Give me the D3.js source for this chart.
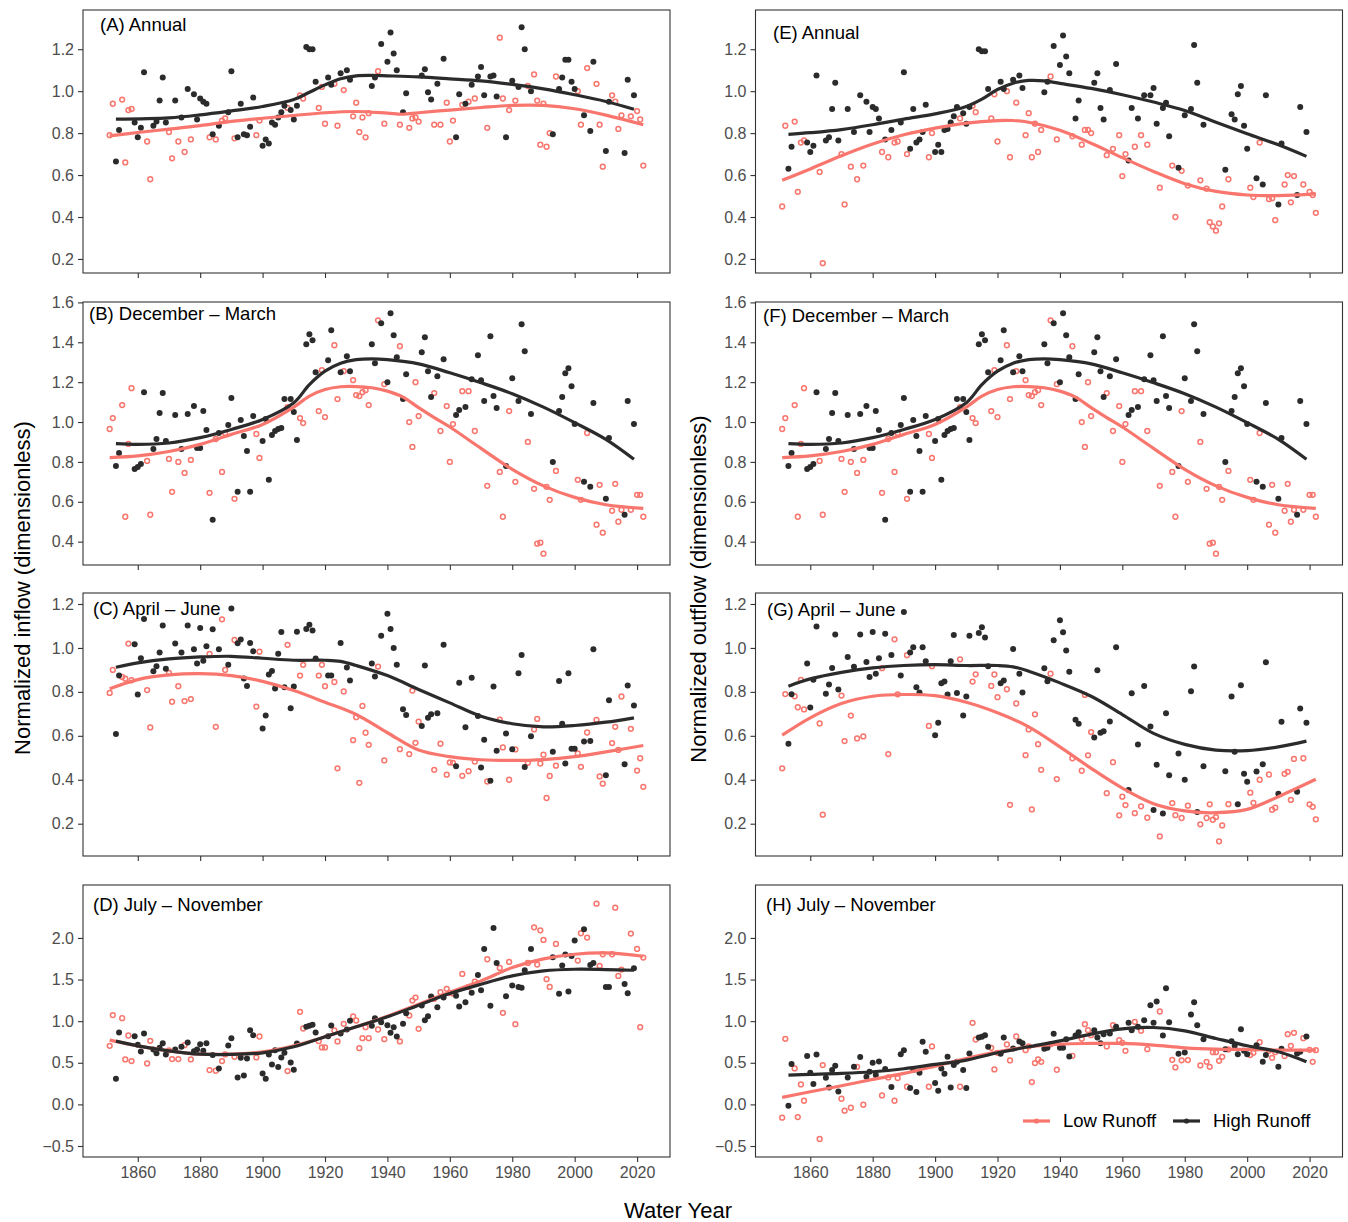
<!DOCTYPE html>
<html>
<head>
<meta charset="utf-8">
<script src="https://cdn.jsdelivr.net/npm/d3@7"></script>
<style>
  body { margin: 0; background: #fff; }
  text { font-family: "Liberation Sans", Arial, Helvetica, sans-serif; }
</style>
</head>
<body>
<div id="chart"></div>
<script>
// water years split by runoff class
var lowYears = [1851,1852,1855,1856,1857,1858, 1863,1864, 1870,1871,1873,1875,1877, 1883,1885,1887,1888,1891,
  1898,1899, 1908,1912,1913, 1918,1919,1920, 1923,1924,1926, 1929,1930,1931,1932,1933,1934, 1937,1939,
  1944,1947,1948,1949,1950, 1955,1957,1959,1960,1961, 1964,1966,1968, 1972,1976,1977,1979,
  1981,1985,1987,1988,1989,1990,1991,1992, 1994, 2001,2002,2004, 2007,2008,2009, 2012,2013,2014,2015,
  2018,2020,2021,2022];
var highYears = [1853,1854,1859,1860,1861,1862, 1865,1866,1867,1868,1869, 1872,1874,1876, 1878,1879,1880,1881,1882,
  1884,1886, 1889,1890, 1892,1893,1894,1895,1896,1897, 1900,1901,1902,1903,1904,1905,1906,1907,
  1909,1910,1911, 1914,1915,1916,1917, 1921,1922, 1925,1927,1928, 1935,1936,1938, 1940,1941,1942,1943,
  1945,1946, 1951,1952,1953,1954, 1956,1958, 1962,1963,1965,1967, 1969,1970,1971, 1973,1974,1975,
  1978,1980, 1982,1983,1984,1986, 1993, 1995,1996,1997,1998,1999,2000, 2003,2005,2006, 2010,2011,
  2016,2017,2019];

// (A) Annual inflow
var annualInLow = [0.79,0.94,0.96,0.66,0.91,0.915, 0.76,0.58, 0.805,0.68,0.76,0.71,0.77, 0.78,0.77,0.86,0.87,0.775,
  0.79,0.86, 0.92,0.98,0.965, 0.92,1.02,0.845, 1.035,0.835,1.005, 0.88,0.945,0.805,0.875,0.78,0.895, 1.095,0.845,
  0.84,0.825,0.87,0.875,0.855, 0.84,0.84,0.945,0.76,0.86, 0.935,0.95,0.965, 0.825,1.255,0.965,0.91,
  0.955,1.025,1.08,0.955,0.745,0.94,0.735,0.8, 1.07, 1.0,0.84,1.11, 1.035,0.84,0.64, 0.98,0.95,0.82,0.885,
  0.88,0.905,0.865,0.645];
var annualInHigh = [0.665,0.815,0.85,0.78,0.825,1.09, 0.835,0.855,0.955,1.065,0.85, 0.955,0.875,1.01, 0.985,0.865,0.965,0.95,0.94,
  0.795,0.835, 0.9,1.095, 0.78,0.94,0.795,0.79,0.83,0.97, 0.74,0.77,0.75,0.85,0.84,0.875,0.9,0.93,
  0.91,0.865,0.93, 1.21,1.2,1.2,1.045, 1.065,1.03, 1.085,1.1,1.055, 1.025,1.065,1.225, 1.14,1.28,1.18,1.1,
  0.9,0.99, 1.075,1.105,0.995,0.96, 1.035,1.155, 0.78,0.985,0.94,1.03, 1.07,1.115,0.98, 1.07,1.075,0.975,
  0.78,1.05, 1.02,1.305,1.2,1.0, 0.795, 1.01,1.065,1.15,1.15,1.045,1.01, 0.885,0.81,1.14, 0.715,0.95,
  0.705,1.055,0.98];
var annualInLowFit = [[1851,0.787],[1860,0.803],[1870,0.819],[1880,0.836],[1890,0.856],[1900,0.871],[1910,0.884],
  [1920,0.897],[1930,0.903],[1940,0.895],[1945,0.89],[1950,0.897],[1960,0.91],[1970,0.922],[1980,0.932],
  [1990,0.932],[2000,0.916],[2010,0.886],[2022,0.84]];
var annualInHighFit = [[1853,0.867],[1870,0.873],[1880,0.887],[1890,0.906],[1900,0.927],[1910,0.96],[1915,0.995],
  [1920,1.03],[1925,1.059],[1930,1.073],[1935,1.075],[1940,1.073],[1950,1.068],[1960,1.059],[1970,1.049],
  [1980,1.032],[1990,1.011],[2000,0.983],[2010,0.951],[2019,0.914]];

// (E) Annual outflow
var annualOutLow = [0.45,0.835,0.855,0.52,0.755,0.765, 0.615,0.18, 0.7,0.46,0.64,0.58,0.645, 0.71,0.685,0.755,0.76,0.7,
  0.685,0.8, 0.87,0.93,0.9, 0.87,0.985,0.76, 1.0,0.685,0.945, 0.79,0.895,0.685,0.845,0.71,0.815, 1.07,0.77,
  0.785,0.745,0.815,0.815,0.8, 0.695,0.725,0.79,0.595,0.7, 0.735,0.79,0.745, 0.54,0.645,0.4,0.62,
  0.55,0.575,0.535,0.375,0.355,0.335,0.37,0.45, 0.58, 0.54,0.495,0.755, 0.485,0.49,0.385, 0.555,0.6,0.47,0.595,
  0.555,0.52,0.505,0.42];
var annualOutHigh = [0.63,0.735,0.755,0.71,0.74,1.075, 0.765,0.78,0.915,1.04,0.765, 0.915,0.805,0.98, 0.95,0.805,0.925,0.915,0.87,
  0.77,0.815, 0.85,1.09, 0.725,0.915,0.755,0.77,0.805,0.935, 0.71,0.745,0.71,0.815,0.82,0.85,0.88,0.925,
  0.895,0.845,0.925, 1.2,1.19,1.19,1.01, 1.045,1.01, 1.055,1.075,1.015, 0.995,1.045,1.215, 1.125,1.265,1.165,1.085,
  0.87,0.955, 1.04,1.085,0.92,0.865, 1.005,1.13, 0.67,0.92,0.87,0.98, 0.98,1.015,0.845, 0.92,0.945,0.785,
  0.635,0.885, 0.915,1.22,1.04,0.84, 0.625, 0.89,0.865,0.985,1.025,0.835,0.725, 0.585,0.555,0.98, 0.46,0.75,
  0.505,0.925,0.805];
var annualOutLowFit = [[1851,0.575],[1860,0.629],[1870,0.692],[1880,0.748],[1890,0.792],[1900,0.824],[1910,0.848],
  [1920,0.86],[1925,0.86],[1930,0.852],[1940,0.814],[1950,0.752],[1960,0.683],[1970,0.617],[1980,0.559],
  [1990,0.522],[2000,0.505],[2010,0.502],[2022,0.51]];
var annualOutHighFit = [[1853,0.794],[1860,0.802],[1870,0.817],[1880,0.84],[1890,0.867],[1900,0.892],[1910,0.927],
  [1915,0.962],[1920,1.008],[1925,1.038],[1930,1.051],[1935,1.049],[1940,1.037],[1950,1.013],[1960,0.983],
  [1970,0.948],[1980,0.908],[1990,0.852],[2000,0.797],[2010,0.744],[2019,0.689]];

// (B) and (F) December - March (same in both columns)
var decMarLow = [0.965,1.02,1.085,0.525,0.89,1.17, 0.805,0.535, 0.815,0.65,0.8,0.745,0.81, 0.645,0.915,0.75,0.945,0.615,
  0.94,0.82, 1.075,1.02,0.995, 1.055,1.26,1.025, 1.385,1.115,1.255, 1.21,1.135,1.13,1.15,1.16,1.085, 1.51,1.19,
  1.38,1.0,0.875,1.2,1.03, 1.145,0.955,1.08,0.8,0.99, 1.155,1.155,0.955, 0.68,0.75,0.525,1.055,
  0.7,0.9,0.665,0.39,0.395,0.34,0.675,0.61, 0.755, 0.71,0.61,0.945, 0.485,0.685,0.445, 0.555,0.69,0.5,0.56,
  0.56,0.635,0.635,0.525];
var decMarHigh = [0.78,0.845,0.765,0.775,0.79,1.15, 0.865,0.915,1.045,1.145,0.905, 1.035,0.865,1.04, 1.08,0.87,0.87,1.055,0.96,
  0.51,0.945, 0.985,1.12, 0.65,1.01,0.93,0.855,0.65,1.03, 0.905,1.015,0.71,0.935,0.955,0.965,0.97,1.115,
  1.115,1.05,0.91, 1.39,1.44,1.41,1.25, 1.31,1.46, 1.25,1.33,1.255, 1.39,1.295,1.495, 1.2,1.545,1.435,1.325,
  1.115,1.24, 1.35,1.425,1.255,1.125, 1.23,1.315, 1.035,1.06,1.075,1.215, 1.335,1.21,1.105, 1.43,1.13,1.07,
  0.78,1.22, 1.105,1.49,1.355,1.04, 0.8, 1.055,1.125,1.245,1.27,1.18,0.99, 0.7,0.675,1.095, 0.615,0.92,
  0.535,1.105,0.99];
var decMarLowFit = [[1851,0.822],[1860,0.83],[1870,0.852],[1880,0.888],[1890,0.938],[1900,0.988],[1910,1.075],
  [1915,1.13],[1920,1.163],[1925,1.177],[1930,1.178],[1935,1.172],[1940,1.155],[1945,1.125],[1950,1.072],
  [1955,1.022],[1960,0.975],[1970,0.868],[1980,0.763],[1990,0.68],[2000,0.622],[2010,0.585],[2022,0.567]];
var decMarHighFit = [[1853,0.892],[1860,0.888],[1870,0.895],[1880,0.922],[1890,0.963],[1900,1.013],[1910,1.097],
  [1915,1.188],[1920,1.255],[1925,1.295],[1930,1.313],[1935,1.317],[1940,1.313],[1950,1.292],[1960,1.247],
  [1970,1.197],[1980,1.142],[1990,1.075],[2000,0.997],[2010,0.913],[2019,0.813]];

// (C) April - June inflow
var aprJunInLow = [0.795,0.9,0.868,0.86,1.02,0.853, 0.808,0.638, 0.886,0.755,0.826,0.758,0.767, 0.973,0.641,1.13,0.9,1.036,
  0.733,0.983, 1.014,0.874,0.923, 0.874,0.923,0.826, 0.845,0.452,0.802, 0.58,0.685,0.386,0.736,0.614,0.559, 0.915,0.488,
  0.539,0.517,0.806,0.568,0.665, 0.445,0.564,0.423,0.479,0.477, 0.418,0.439,0.483, 0.392,0.674,0.547,0.4,
  0.538,0.477,0.629,0.677,0.474,0.514,0.317,0.417, 0.464, 0.52,0.459,0.615, 0.673,0.415,0.382, 0.567,0.641,0.536,0.779,
  0.632,0.442,0.498,0.368];
var aprJunInHigh = [0.608,0.874,1.017,0.788,0.953,1.132, 0.894,0.917,0.979,1.102,0.905, 1.02,0.979,1.102, 0.994,0.929,1.091,0.942,1.008,
  1.085,0.994, 0.924,1.179, 1.021,1.038,0.861,0.827,1.023,0.985, 0.633,0.692,0.879,0.895,0.815,0.974,1.073,0.821,
  0.726,0.824,1.074, 1.086,1.106,1.079,0.952, 0.874,0.874, 1.023,0.911,0.852, 0.929,0.87,1.055, 1.155,1.086,1.0,0.924,
  0.721,0.695, 0.645,0.92,0.682,0.698, 0.703,1.015, 0.461,0.841,0.639,0.864, 0.69,0.456,0.582, 0.395,0.824,0.532,
  0.611,0.539, 0.885,0.968,0.458,0.598, 0.527, 0.85,0.655,0.474,0.885,0.541,0.541, 0.574,0.576,0.994, 0.421,0.762,
  0.471,0.829,0.738];
var aprJunInLowFit = [[1851,0.814],[1860,0.856],[1870,0.877],[1880,0.883],[1890,0.874],[1900,0.848],[1910,0.806],
  [1920,0.753],[1930,0.697],[1940,0.614],[1950,0.535],[1960,0.505],[1970,0.491],[1980,0.488],[1990,0.492],
  [2000,0.505],[2010,0.527],[2022,0.556]];
var aprJunInHighFit = [[1853,0.912],[1860,0.932],[1870,0.95],[1880,0.959],[1890,0.962],[1900,0.953],[1910,0.944],
  [1920,0.944],[1925,0.939],[1930,0.92],[1940,0.874],[1950,0.811],[1960,0.75],[1970,0.689],[1980,0.655],
  [1990,0.641],[2000,0.647],[2010,0.662],[2019,0.682]];

// (G) April - June outflow
var aprJunOutLow = [0.452,0.79,0.78,0.73,0.855,0.72, 0.656,0.241, 0.783,0.576,0.692,0.588,0.597, 0.908,0.517,1.039,0.789,0.967,
  0.645,0.917, 0.948,0.847,0.88, 0.827,0.879,0.776, 0.812,0.286,0.747, 0.512,0.629,0.265,0.698,0.562,0.445, 0.883,0.403,
  0.498,0.441,0.786,0.511,0.617, 0.339,0.48,0.238,0.323,0.285, 0.248,0.279,0.227, 0.142,0.294,0.239,0.226,
  0.282,0.197,0.226,0.288,0.218,0.23,0.12,0.192, 0.289, 0.341,0.295,0.4, 0.424,0.264,0.273, 0.427,0.436,0.308,0.495,
  0.498,0.288,0.277,0.22];
var aprJunOutHigh = [0.564,0.789,0.929,0.729,0.855,1.097, 0.792,0.833,0.909,1.061,0.811, 0.959,0.914,1.061, 0.936,0.868,1.073,0.882,0.953,
  1.064,0.968, 0.874,1.164, 0.979,1.003,0.821,0.797,1.003,0.939, 0.603,0.659,0.839,0.847,0.788,0.939,1.059,0.795,
  0.692,0.779,1.055, 1.068,1.094,1.048,0.917, 0.839,0.852, 0.995,0.882,0.797, 0.908,0.848,1.035, 1.126,1.071,0.988,0.892,
  0.673,0.655, 0.592,0.898,0.614,0.621, 0.665,1.003, 0.353,0.794,0.561,0.827, 0.642,0.262,0.468, 0.247,0.703,0.42,
  0.52,0.4, 0.803,0.915,0.253,0.461, 0.439, 0.779,0.527,0.288,0.83,0.427,0.391, 0.438,0.471,0.935, 0.336,0.664,
  0.345,0.724,0.659];
var aprJunOutLowFit = [[1851,0.603],[1860,0.682],[1870,0.747],[1880,0.78],[1890,0.788],[1900,0.783],[1910,0.753],
  [1920,0.705],[1930,0.641],[1940,0.55],[1950,0.452],[1960,0.362],[1970,0.291],[1980,0.258],[1990,0.25],
  [2000,0.265],[2010,0.323],[2022,0.402]];
var aprJunOutHighFit = [[1853,0.826],[1860,0.859],[1870,0.889],[1880,0.909],[1890,0.92],[1900,0.924],[1910,0.92],
  [1920,0.92],[1925,0.914],[1930,0.894],[1940,0.841],[1950,0.78],[1960,0.697],[1970,0.611],[1980,0.561],
  [1990,0.535],[2000,0.533],[2010,0.55],[2019,0.576]];

// (D) July - November inflow
var julNovInLow = [0.704,1.072,1.036,0.54,0.828,0.52, 0.492,0.764, 0.65,0.544,0.544,0.712,0.54, 0.412,0.404,0.52,0.6,0.572,
  0.564,0.816, 0.4,1.112,0.912, 0.76,0.684,0.684, 0.888,0.756,0.968, 1.056,1.008,0.676,0.796,0.928,0.796, 0.9,0.784,
  0.756,1.068,1.248,1.284,0.908, 1.268,1.348,1.388,1.34,1.332, 1.568,1.412,1.476, 1.744,1.64,1.1,1.712,
  0.964,1.7,2.128,1.68,2.092,1.976,1.504,1.412, 1.928, 1.728,2.056,2.004, 2.412,1.664,1.804, 1.804,2.364,1.544,1.62,
  2.052,1.868,0.928,1.764];
var julNovInHigh = [0.308,0.864,0.82,0.716,0.636,0.852, 0.66,0.616,0.68,0.736,0.6, 0.66,0.692,0.744, 0.64,0.66,0.724,0.644,0.736,
  0.592,0.432, 0.708,0.796, 0.324,0.56,0.348,0.552,0.892,0.832, 0.372,0.308,0.6,0.48,0.652,0.448,0.564,0.62,
  0.504,0.416,0.732, 0.932,0.944,0.956,0.864, 0.82,0.948, 0.852,0.9,1.004, 0.944,1.036,0.988, 0.952,0.86,0.928,0.816,
  0.968,1.096, 1.188,1.012,1.06,1.296, 1.168,1.284, 1.304,1.176,1.228,1.34, 1.556,1.372,1.868, 1.184,2.12,1.7,
  1.3,1.428, 1.412,1.4,1.612,1.868, 1.768, 1.328,1.668,1.8,1.356,1.784,1.968, 2.104,1.676,1.7, 1.412,1.412,
  1.448,1.336,1.636];
var julNovInLowFit = [[1851,0.772],[1860,0.704],[1870,0.644],[1880,0.604],[1890,0.604],[1900,0.632],[1910,0.704],
  [1920,0.812],[1930,0.932],[1940,1.06],[1950,1.204],[1960,1.348],[1970,1.484],[1980,1.644],[1990,1.748],
  [2000,1.804],[2010,1.82],[2022,1.78]];
var julNovInHighFit = [[1853,0.76],[1860,0.704],[1870,0.644],[1880,0.604],[1890,0.6],[1900,0.62],[1910,0.692],
  [1920,0.812],[1930,0.932],[1940,1.052],[1950,1.192],[1960,1.332],[1970,1.444],[1980,1.544],[1990,1.604],
  [2000,1.624],[2010,1.62],[2019,1.612]];

// (H) July - November outflow
var julNovOutLow = [-0.16,0.788,0.432,-0.152,0.24,0.044, -0.416,0.472, 0.068,-0.076,-0.04,0.452,-0.004, 0.108,0.324,0.044,0.316,0.212,
  0.212,0.696, 0.212,0.98,0.78, 0.68,0.42,0.62, 0.72,0.528,0.816, 0.652,0.696,0.268,0.496,0.54,0.512, 0.724,0.416,
  0.584,0.788,0.964,0.892,0.832, 0.696,0.952,0.772,0.74,0.644, 0.992,0.884,0.664, 1.116,0.536,0.444,0.53,
  0.532,0.468,0.512,0.452,0.628,0.628,0.524,0.572, 0.66, 0.592,0.62,0.748, 0.644,0.56,0.628, 0.58,0.844,0.704,0.86,
  0.796,0.656,0.512,0.652];
var julNovOutHigh = [-0.016,0.484,0.58,0.38,0.244,0.6, 0.32,0.204,0.412,0.464,0.156, 0.324,0.452,0.568, 0.332,0.392,0.5,0.352,0.516,
  0.424,0.208, 0.604,0.652, 0.196,0.412,0.148,0.38,0.752,0.632, 0.256,0.164,0.432,0.368,0.572,0.204,0.472,0.512,
  0.412,0.196,0.612, 0.804,0.812,0.832,0.692, 0.608,0.804, 0.672,0.756,0.736, 0.668,0.68,0.848, 0.68,0.68,0.784,0.576,
  0.828,0.868, 0.892,0.804,0.736,0.844, 0.852,0.932, 0.98,0.892,0.932,1.012, 1.192,0.98,1.236, 0.828,1.396,0.988,
  0.608,0.624, 1.08,1.228,0.952,0.784, 0.664, 0.76,0.704,0.604,0.904,0.644,0.604, 0.712,0.512,0.592, 0.452,0.668,
  0.612,0.632,0.816];
var julNovOutLowFit = [[1851,0.084],[1860,0.152],[1870,0.224],[1880,0.3],[1890,0.372],[1900,0.46],[1910,0.552],
  [1920,0.632],[1930,0.692],[1940,0.724],[1950,0.732],[1960,0.732],[1970,0.712],[1980,0.68],[1990,0.664],
  [2000,0.66],[2010,0.652],[2022,0.652]];
var julNovOutHighFit = [[1853,0.352],[1860,0.36],[1870,0.372],[1880,0.392],[1890,0.428],[1900,0.48],[1910,0.532],
  [1920,0.62],[1930,0.692],[1940,0.764],[1950,0.844],[1960,0.908],[1970,0.924],[1980,0.884],[1990,0.792],
  [2000,0.704],[2010,0.632],[2019,0.512]];

var yearTicks = [1860, 1880, 1900, 1920, 1940, 1960, 1980, 2000, 2020];
var seriesNames = ['Low Runoff', 'High Runoff'];

var lowColor = '#F8766D', highColor = '#2b2b2b';

var width = 1348, height = 1222;
var xDomain = [1842.45, 2030.55];

// column x ranges, row pixel extents and y scales
var cols = [[83, 670], [755.5, 1342.5]];
var rows = [
  {top: 10,  bottom: 273,  domain: [0.133, 1.387],  ticks: [0.2, 0.4, 0.6, 0.8, 1.0, 1.2]},
  {top: 302, bottom: 565,  domain: [0.283, 1.602],  ticks: [0.4, 0.6, 0.8, 1.0, 1.2, 1.4, 1.6]},
  {top: 593, bottom: 856,  domain: [0.053, 1.25],   ticks: [0.2, 0.4, 0.6, 0.8, 1.0, 1.2]},
  {top: 885, bottom: 1157, domain: [-0.632, 2.636], ticks: [-0.5, 0.0, 0.5, 1.0, 1.5, 2.0]}
];

var panels = [
  {label: '(A) Annual',           col: 0, row: 0, lx: 100, ly: 25,  low: annualInLow,  high: annualInHigh,  lowFit: annualInLowFit,  highFit: annualInHighFit},
  {label: '(B) December \u2013 March', col: 0, row: 1, lx: 89, ly: 314, low: decMarLow, high: decMarHigh, lowFit: decMarLowFit, highFit: decMarHighFit},
  {label: '(C) April \u2013 June',     col: 0, row: 2, lx: 93, ly: 609, low: aprJunInLow, high: aprJunInHigh, lowFit: aprJunInLowFit, highFit: aprJunInHighFit},
  {label: '(D) July \u2013 November',  col: 0, row: 3, lx: 93, ly: 905, low: julNovInLow, high: julNovInHigh, lowFit: julNovInLowFit, highFit: julNovInHighFit},
  {label: '(E) Annual',           col: 1, row: 0, lx: 773, ly: 33,  low: annualOutLow, high: annualOutHigh, lowFit: annualOutLowFit, highFit: annualOutHighFit},
  {label: '(F) December \u2013 March', col: 1, row: 1, lx: 763, ly: 316, low: decMarLow, high: decMarHigh, lowFit: decMarLowFit, highFit: decMarHighFit},
  {label: '(G) April \u2013 June',     col: 1, row: 2, lx: 767, ly: 610, low: aprJunOutLow, high: aprJunOutHigh, lowFit: aprJunOutLowFit, highFit: aprJunOutHighFit},
  {label: '(H) July \u2013 November',  col: 1, row: 3, lx: 766, ly: 905, low: julNovOutLow, high: julNovOutHigh, lowFit: julNovOutLowFit, highFit: julNovOutHighFit, legend: true}
];

var svg = d3.select('#chart')
  .append('svg')
  .attr('width', width)
  .attr('height', height)
  .style('background', '#fff');

panels.forEach(function (p) {
  var c = cols[p.col], r = rows[p.row];
  var x = d3.scaleLinear().domain(xDomain).range(c);
  var y = d3.scaleLinear().domain(r.domain).range([r.bottom, r.top]);
  var g = svg.append('g');

  // x axis (labels only on bottom row)
  var xa = g.append('g')
    .attr('transform', 'translate(0,' + r.bottom + ')')
    .call(d3.axisBottom(x).tickValues(yearTicks).tickSize(5).tickPadding(5)
      .tickFormat(p.row === 3 ? d3.format('d') : function () { return ''; }));
  // y axis
  var ya = g.append('g')
    .attr('transform', 'translate(' + c[0] + ',0)')
    .call(d3.axisLeft(y).tickValues(r.ticks).tickSize(5).tickPadding(4).tickFormat(d3.format('.1f')));
  [xa, ya].forEach(function (a) {
    a.select('.domain').remove();
    a.selectAll('line').attr('stroke', '#333').attr('stroke-width', 1.1);
    a.selectAll('text').attr('fill', '#4d4d4d').style('font-size', '16px')
      .style('font-family', '"Liberation Sans", Arial, sans-serif');
  });

  // low runoff points (open circles)
  g.append('g').selectAll('circle')
    .data(lowYears.map(function (yr, i) { return [yr, p.low[i]]; }))
    .enter().append('circle')
    .attr('cx', function (d) { return x(d[0]); })
    .attr('cy', function (d) { return y(d[1]); })
    .attr('r', 2.4)
    .attr('fill', 'none')
    .attr('stroke', lowColor)
    .attr('stroke-width', 1.5);

  // high runoff points (filled)
  g.append('g').selectAll('circle')
    .data(highYears.map(function (yr, i) { return [yr, p.high[i]]; }))
    .enter().append('circle')
    .attr('cx', function (d) { return x(d[0]); })
    .attr('cy', function (d) { return y(d[1]); })
    .attr('r', 3)
    .attr('fill', highColor);

  // smoothed trends
  var line = d3.line()
    .x(function (d) { return x(d[0]); })
    .y(function (d) { return y(d[1]); })
    .curve(d3.curveCatmullRom.alpha(0.5));
  g.append('path').datum(p.lowFit).attr('d', line)
    .attr('fill', 'none').attr('stroke', lowColor).attr('stroke-width', 3.2);
  g.append('path').datum(p.highFit).attr('d', line)
    .attr('fill', 'none').attr('stroke', highColor).attr('stroke-width', 3.2);

  // panel border
  g.append('rect')
    .attr('x', c[0]).attr('y', r.top)
    .attr('width', c[1] - c[0]).attr('height', r.bottom - r.top)
    .attr('fill', 'none').attr('stroke', '#333').attr('stroke-width', 1.1);

  // panel tag
  g.append('text')
    .attr('x', p.lx).attr('y', p.ly)
    .attr('dy', '0.35em')
    .style('font-size', '18.5px')
    .attr('fill', '#000')
    .text(p.label);

  if (p.legend) {
    var items = [
      {name: seriesNames[0], color: lowColor, lx: 1023, tx: 1063},
      {name: seriesNames[1], color: highColor, lx: 1173, tx: 1213}
    ];
    var lg = g.append('g');
    items.forEach(function (it) {
      lg.append('line')
        .attr('x1', it.lx).attr('x2', it.lx + 27)
        .attr('y1', 1121).attr('y2', 1121)
        .attr('stroke', it.color).attr('stroke-width', 3.2);
      lg.append('circle')
        .attr('cx', it.lx + 13.5).attr('cy', 1121).attr('r', 2.6)
        .attr('fill', it.color);
      lg.append('text')
        .attr('x', it.tx).attr('y', 1121).attr('dy', '0.35em')
        .style('font-size', '18.5px')
        .attr('fill', '#000')
        .text(it.name);
    });
  }
});

// axis titles
svg.append('text')
  .attr('transform', 'translate(22,588) rotate(-90)')
  .attr('text-anchor', 'middle')
  .attr('dy', '0.35em')
  .style('font-size', '22px')
  .text('Normalized inflow (dimensionless)');

svg.append('text')
  .attr('transform', 'translate(698,589) rotate(-90)')
  .attr('text-anchor', 'middle')
  .attr('dy', '0.35em')
  .style('font-size', '22px')
  .text('Normalized outflow (dimensionless)');

svg.append('text')
  .attr('x', 678).attr('y', 1210)
  .attr('text-anchor', 'middle')
  .attr('dy', '0.35em')
  .style('font-size', '22px')
  .text('Water Year');
</script>
</body>
</html>
